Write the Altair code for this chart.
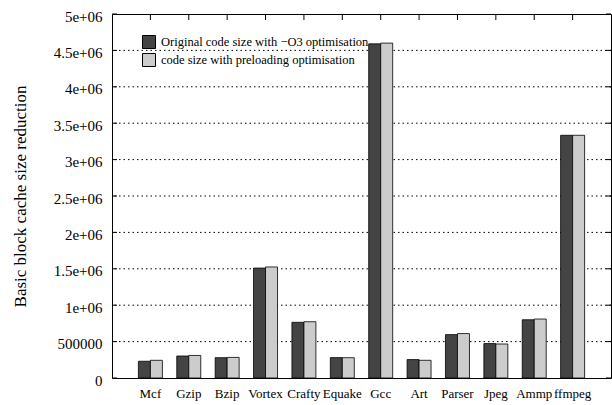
import altair as alt
import pandas as pd

# Benchmarks and basic-block cache sizes for the two builds
benchmarks = ["Mcf", "Gzip", "Bzip", "Vortex", "Crafty", "Equake",
              "Gcc", "Art", "Parser", "Jpeg", "Ammp", "ffmpeg"]
original_o3 = [230000, 302000, 279000, 1510000, 765000, 280000,
               4590000, 253000, 596000, 473000, 800000, 3334000]
preloading = [243000, 310000, 283000, 1525000, 773000, 279000,
              4600000, 243000, 610000, 467000, 810000, 3334000]

series_names = ["Original code size with \u2212O3 optimisation",
                "code size with preloading optimisation"]
series_colors = ["#444444", "#cccccc"]

y_ticks = [0, 500000, 1000000, 1500000, 2000000, 2500000,
           3000000, 3500000, 4000000, 4500000, 5000000]
y_tick_labels = ["0", "500000", "1e+06", "1.5e+06", "2e+06", "2.5e+06",
                 "3e+06", "3.5e+06", "4e+06", "4.5e+06", "5e+06"]

FONT = "Liberation Serif"
W, H = 499, 364

rows = []
for i, b in enumerate(benchmarks):
    rows.append({"benchmark": b, "series": series_names[0], "value": original_o3[i]})
    rows.append({"benchmark": b, "series": series_names[1], "value": preloading[i]})
bars_df = pd.DataFrame(rows)
ticks_df = pd.DataFrame({"value": y_ticks})
grid_df = pd.DataFrame({"value": y_ticks[1:-1]})
cats_df = pd.DataFrame({"benchmark": benchmarks})

x_scale = alt.Scale(domain=benchmarks, paddingInner=0, paddingOuter=0.5)
y_scale = alt.Scale(domain=[0, 5000000], nice=False, zero=True)

label_expr = "[" + ",".join("'%s'" % s for s in y_tick_labels) + "][round(datum.value / 500000)]"

x_axis = alt.Axis(title=None, labelAngle=0, ticks=False, tickSize=0,
                  domain=False, grid=False, labelPadding=9, labelFont=FONT,
                  labelFontSize=13, labelColor="black")
y_axis = alt.Axis(values=y_ticks, labelExpr=label_expr, ticks=False,
                  tickSize=0, domain=False, grid=False, labelPadding=10,
                  labelOffset=2, labelFont=FONT, labelFontSize=15,
                  labelColor="black",
                  title="Basic block cache size reduction",
                  titleFont=FONT, titleFontSize=17, titleFontWeight="normal",
                  titleColor="black", titleX=-92, titleY=182,
                  titleAngle=-90, titleBaseline="middle", titleAlign="center")

X = alt.X("benchmark:N", scale=x_scale, sort=benchmarks, axis=x_axis)
Y = alt.Y("value:Q", scale=y_scale, axis=y_axis)

# dotted horizontal grid
grid = alt.Chart(grid_df).mark_rule(
    color="black", strokeDash=[1.5, 3], strokeWidth=1
).encode(y=Y)

# inward tick marks on the left and right frame edges
left_ticks = alt.Chart(ticks_df).mark_rule(color="black", strokeWidth=1).encode(
    y=Y, x=alt.value(0), x2=alt.value(5),
)
right_ticks = alt.Chart(ticks_df).mark_rule(color="black", strokeWidth=1).encode(
    y=Y, x=alt.value(W - 5), x2=alt.value(W),
)

# inward tick marks on the top edge, one per benchmark
top_ticks = alt.Chart(cats_df).mark_rule(color="black", strokeWidth=1).encode(
    x=X, y=alt.value(0), y2=alt.value(6),
)

bars = alt.Chart(bars_df).mark_bar(stroke="black", strokeWidth=0.8, opacity=1).encode(
    x=X,
    xOffset=alt.XOffset("series:N", sort=series_names,
                        scale=alt.Scale(domain=series_names, paddingInner=0,
                                        paddingOuter=0.6)),
    y=Y,
    color=alt.Color("series:N",
                    scale=alt.Scale(domain=series_names, range=series_colors),
                    legend=alt.Legend(title=None, orient="none", legendX=30,
                                      legendY=21, padding=0, symbolType="square",
                                      symbolSize=169, symbolStrokeColor="black",
                                      symbolStrokeWidth=1, symbolOpacity=1,
                                      labelFont=FONT, labelFontSize=12.5,
                                      labelColor="black", labelOffset=5,
                                      labelLimit=0, rowPadding=0)),
)

chart = alt.layer(grid, left_ticks, right_ticks, top_ticks, bars).properties(
    width=W, height=H,
    autosize=alt.AutoSizeParams(type="none"),
    padding={"left": 112, "top": 14, "right": 1, "bottom": 27},
    background="white",
).configure_view(stroke="black", strokeWidth=1)

chart.save("out.html", embed_options={"renderer": "svg", "actions": False})
